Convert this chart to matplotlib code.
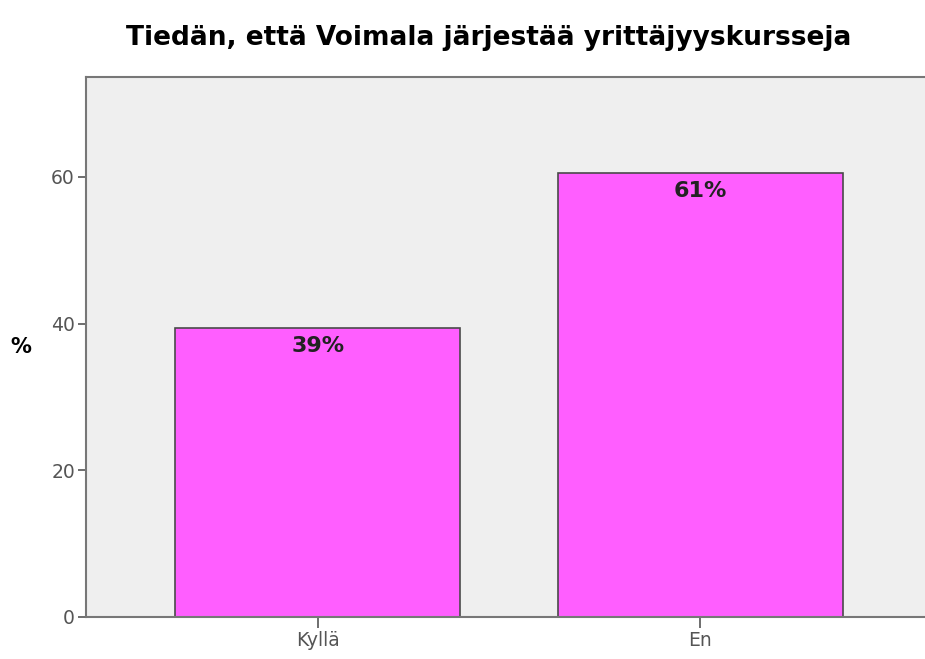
import numpy as np
import matplotlib.pyplot as plt

# data
luokat = ['Kyllä', 'En']
prosentit = [39.4, 60.5]
tekstit = ['39%', '61%']
y_ticks = [0, 20, 40, 60]

plt.rcParams['font.family'] = ['DejaVu Sans']

fig = plt.figure(figsize=(9.25, 6.59), dpi=100)
ax = fig.add_axes([86/925, 1-617/659, 846/925, 540/659])
ax.set_facecolor('#efefef')

x = np.arange(len(luokat))
bars = ax.bar(x, prosentit, width=0.746, color='#ff5eff', edgecolor='#4a4a4a', linewidth=1.2, zorder=2)
for b, t in zip(bars, tekstit):
    ax.text(b.get_x() + b.get_width()/2, b.get_height() - 1.1, t, ha='center', va='top',
            fontsize=16, fontweight='bold', color='#222222')

ax.set_xlim(-0.607, 1.607)
ax.set_ylim(0, 73.6)
ax.set_xticks(x)
ax.set_xticklabels(luokat)
ax.set_yticks(y_ticks)
ax.tick_params(colors='#555555', labelcolor='#555555', labelsize=13.5, width=1.2)
ax.tick_params(axis='y', length=6, pad=2)
ax.tick_params(axis='x', length=8, pad=2)
for s in ['left', 'bottom', 'top', 'right']:
    ax.spines[s].set_color('#777777')
    ax.spines[s].set_linewidth(1.5)

ax.set_ylabel('%', rotation=0, fontsize=15, fontweight='bold', labelpad=22, va='center')
fig.text(0.528, 1-38/659, 'Tiedän, että Voimala järjestää yrittäjyyskursseja', ha='center', va='center',
         fontsize=19, fontweight='bold')

fig.savefig('out.png', dpi=100)
